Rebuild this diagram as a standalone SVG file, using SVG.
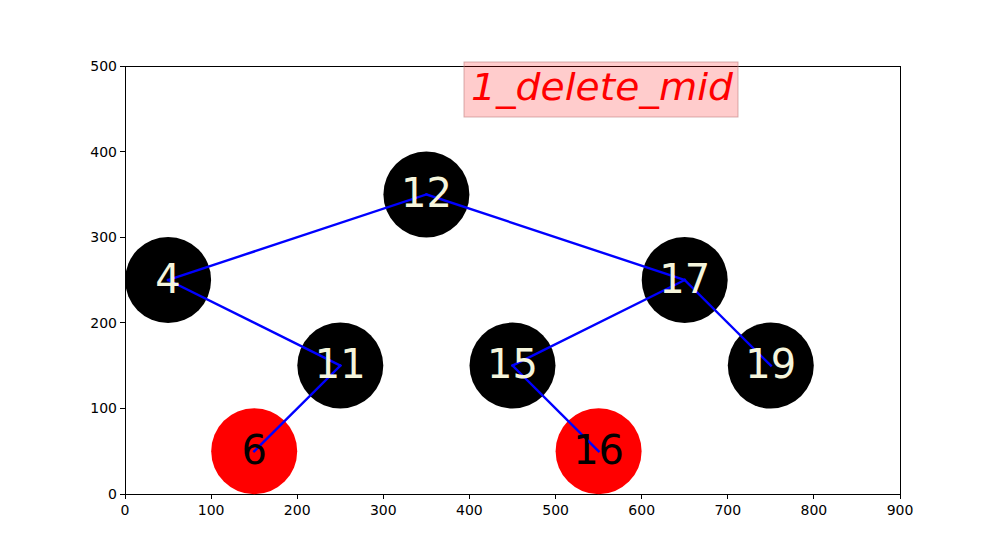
<svg xmlns="http://www.w3.org/2000/svg" width="1000" height="555" viewBox="0 0 1000 555">
  <style>
    .tick { stroke: #000; stroke-width: 1; shape-rendering: crispEdges; }
    .tl { font-family: "DejaVu Sans", sans-serif; font-size: 14px; fill: #000; }
    .edge { stroke: #0000ff; stroke-width: 2.4; stroke-linecap: square; fill: none; }
    .black circle { fill: #000; }
    .red circle { fill: #ff0000; }
    .lbl { font-family: "DejaVu Sans", sans-serif; font-size: 40px; text-anchor: middle; }
    .black .lbl { fill: #f5f5dc; }
    .red .lbl { fill: #000; }
  </style>
  <rect width="1000" height="555" fill="#fff"/>

  <!-- axes frame -->
  <rect x="125" y="66" width="775" height="428" fill="none" stroke="#000" stroke-width="1" shape-rendering="crispEdges"/>

  <!-- x ticks -->
  <g id="xaxis">
    <g class="tick">
      <line x1="125" y1="494" x2="125" y2="499"/>
      <line x1="211.1" y1="494" x2="211.1" y2="499"/>
      <line x1="297.2" y1="494" x2="297.2" y2="499"/>
      <line x1="383.3" y1="494" x2="383.3" y2="499"/>
      <line x1="469.4" y1="494" x2="469.4" y2="499"/>
      <line x1="555.6" y1="494" x2="555.6" y2="499"/>
      <line x1="641.7" y1="494" x2="641.7" y2="499"/>
      <line x1="727.8" y1="494" x2="727.8" y2="499"/>
      <line x1="813.9" y1="494" x2="813.9" y2="499"/>
      <line x1="900" y1="494" x2="900" y2="499"/>
    </g>
    <g class="tl" text-anchor="middle">
      <text x="125" y="515">0</text>
      <text x="211.1" y="515">100</text>
      <text x="297.2" y="515">200</text>
      <text x="383.3" y="515">300</text>
      <text x="469.4" y="515">400</text>
      <text x="555.6" y="515">500</text>
      <text x="641.7" y="515">600</text>
      <text x="727.8" y="515">700</text>
      <text x="813.9" y="515">800</text>
      <text x="900" y="515">900</text>
    </g>
  </g>

  <!-- y ticks -->
  <g id="yaxis">
    <g class="tick">
      <line x1="120" y1="494" x2="125" y2="494"/>
      <line x1="120" y1="408.4" x2="125" y2="408.4"/>
      <line x1="120" y1="322.8" x2="125" y2="322.8"/>
      <line x1="120" y1="237.2" x2="125" y2="237.2"/>
      <line x1="120" y1="151.6" x2="125" y2="151.6"/>
      <line x1="120" y1="66" x2="125" y2="66"/>
    </g>
    <g class="tl" text-anchor="end">
      <text x="117" y="499">0</text>
      <text x="117" y="413.4">100</text>
      <text x="117" y="327.8">200</text>
      <text x="117" y="242.2">300</text>
      <text x="117" y="156.6">400</text>
      <text x="117" y="71">500</text>
    </g>
  </g>

  <!-- tree nodes (circles) -->
  <g id="n12" class="black"><circle cx="426.4" cy="194.4" r="43"/></g>
  <g id="n4" class="black"><circle cx="168.1" cy="280" r="43"/></g>
  <g id="n17" class="black"><circle cx="684.7" cy="280" r="43"/></g>
  <g id="n11" class="black"><circle cx="340.3" cy="365.6" r="43"/></g>
  <g id="n15" class="black"><circle cx="512.5" cy="365.6" r="43"/></g>
  <g id="n19" class="black"><circle cx="770.8" cy="365.6" r="43"/></g>
  <g id="n6" class="red"><circle cx="254.2" cy="451.2" r="43"/></g>
  <g id="n16" class="red"><circle cx="598.6" cy="451.2" r="43"/></g>

  <!-- connectors between node centres -->
  <g id="edges">
    <line class="edge" x1="426.4" y1="194.4" x2="168.1" y2="280"/>
    <line class="edge" x1="426.4" y1="194.4" x2="684.7" y2="280"/>
    <line class="edge" x1="168.1" y1="280" x2="340.3" y2="365.6"/>
    <line class="edge" x1="684.7" y1="280" x2="512.5" y2="365.6"/>
    <line class="edge" x1="684.7" y1="280" x2="770.8" y2="365.6"/>
    <line class="edge" x1="340.3" y1="365.6" x2="254.2" y2="451.2"/>
    <line class="edge" x1="512.5" y1="365.6" x2="598.6" y2="451.2"/>
  </g>

  <!-- node labels -->
  <g id="labels">
    <g class="black"><text class="lbl" x="426.4" y="206.9">12</text></g>
    <g class="black"><text class="lbl" x="168.1" y="292.5">4</text></g>
    <g class="black"><text class="lbl" x="684.7" y="292.5">17</text></g>
    <g class="black"><text class="lbl" x="340.3" y="378.1">11</text></g>
    <g class="black"><text class="lbl" x="512.5" y="378.1">15</text></g>
    <g class="black"><text class="lbl" x="770.8" y="378.1">19</text></g>
    <g class="red"><text class="lbl" x="254.2" y="463.7">6</text></g>
    <g class="red"><text class="lbl" x="598.6" y="463.7">16</text></g>
  </g>

  <!-- title box -->
  <g id="title">
    <rect x="464" y="62" width="274" height="55" fill="#ff0000" fill-opacity="0.2" stroke="#c08080" stroke-opacity="0.6" stroke-width="1"/>
    <text x="471" y="100" font-family="'DejaVu Sans', sans-serif" font-style="italic" font-size="38" fill="#ff0000" textLength="262" lengthAdjust="spacingAndGlyphs">1_delete_mid</text>
  </g>
</svg>
